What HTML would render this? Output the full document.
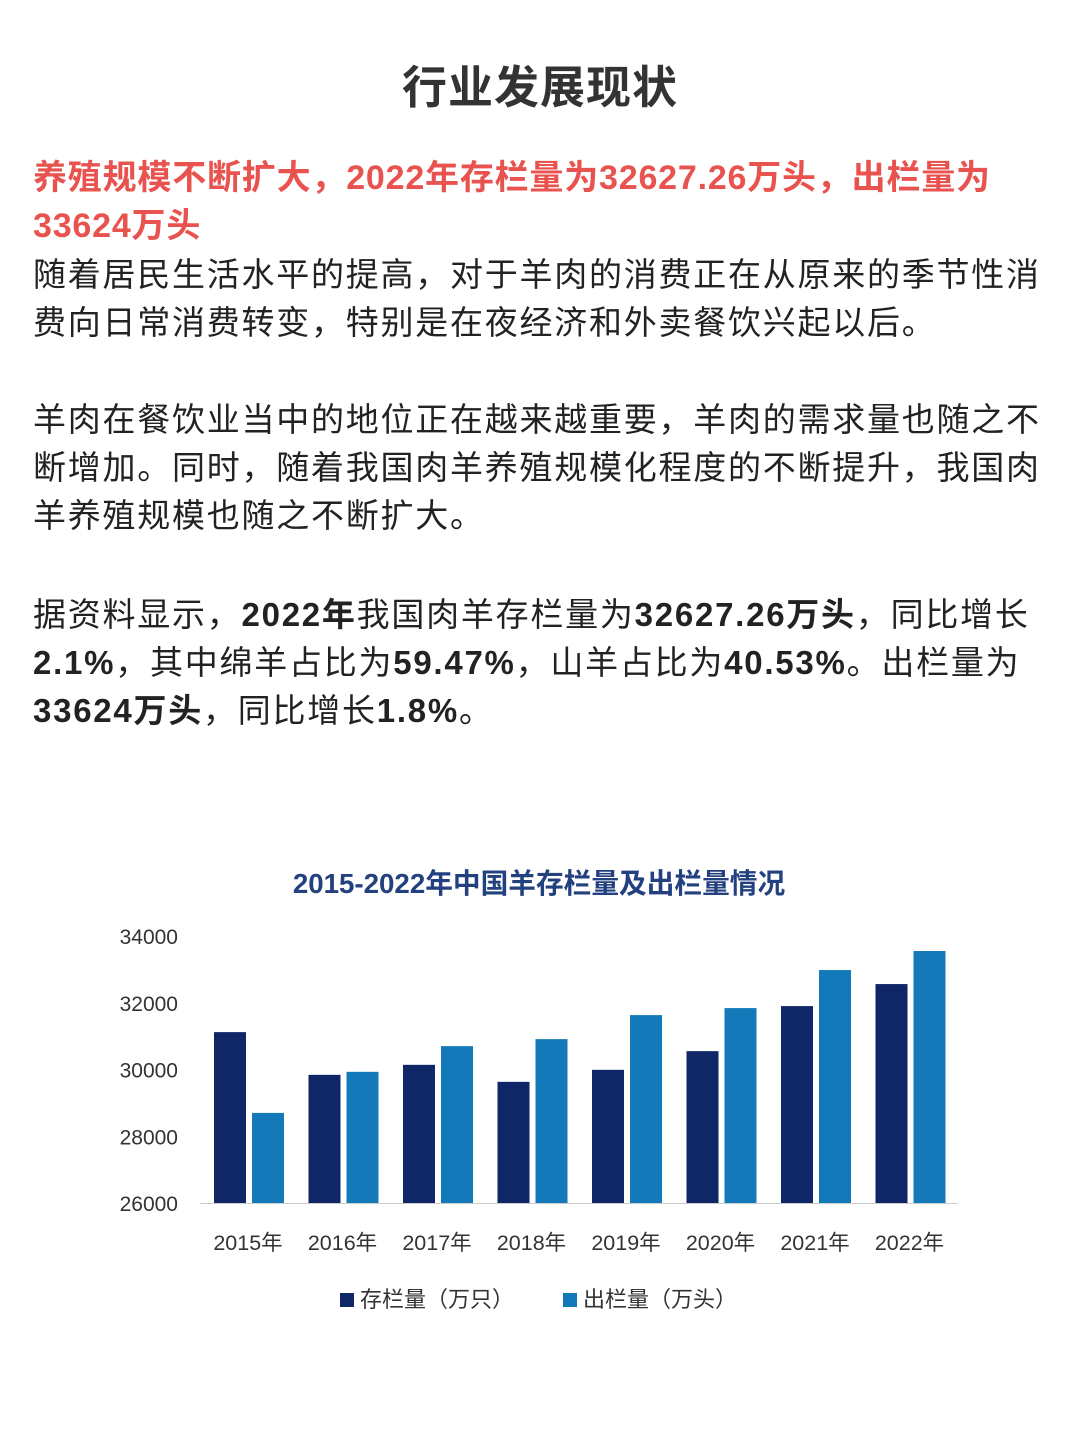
<!DOCTYPE html>
<html><head><meta charset="utf-8">
<style>
body{margin:0;width:1080px;height:1443px;background:#fff;position:relative;font-family:"Liberation Sans","Noto Sans CJK SC",sans-serif;overflow:hidden}
.t{position:absolute;left:33px;white-space:nowrap}
h1{position:absolute;top:58px;left:0;width:1080px;text-align:center;margin:0;font-size:45px;color:#333;font-weight:bold;line-height:60px;letter-spacing:1px}
.red{color:#e9534f;font-weight:bold;font-size:34px;line-height:48px;top:154px;letter-spacing:0.8px}
.body{font-size:33px;line-height:48px;color:#222;letter-spacing:1.75px}
b{font-weight:bold}
</style></head><body>
<h1>行业发展现状</h1>
<div class="t red">养殖规模不断扩大，2022年存栏量为32627.26万头，出栏量为<br>33624万头</div>
<div class="t body" style="top:251px">随着居民生活水平的提高，对于羊肉的消费正在从原来的季节性消<br>费向日常消费转变，特别是在夜经济和外卖餐饮兴起以后。</div>
<div class="t body" style="top:396px">羊肉在餐饮业当中的地位正在越来越重要，羊肉的需求量也随之不<br>断增加。同时，随着我国肉羊养殖规模化程度的不断提升，我国肉<br>羊养殖规模也随之不断扩大。</div>
<div class="t body" style="top:591px">据资料显示，<b>2022年</b>我国肉羊存栏量为<b>32627.26万头</b>，同比增长<br><b>2.1%</b>，其中绵羊占比为<b>59.47%</b>，山羊占比为<b>40.53%</b>。出栏量为<br><b>33624万头</b>，同比增长<b>1.8%</b>。</div>
<svg id="chart" width="1080" height="1443" style="position:absolute;left:0;top:0" font-family="Liberation Sans, Noto Sans CJK SC, sans-serif">
<text x="539" y="893" text-anchor="middle" font-size="27.7" font-weight="bold" fill="#23407f">2015-2022年中国羊存栏量及出栏量情况</text>
</svg>
<script>
const categories=["2015年","2016年","2017年","2018年","2019年","2020年","2021年","2022年"];
const stock=[31120,29840,30140,29630,29990,30550,31900,32560];
const output=[28700,29930,30700,30910,31630,31840,32980,33550];
const yTicks=[26000,28000,30000,32000,34000];
const svg=document.getElementById('chart');const NS='http://www.w3.org/2000/svg';
const y0=1203,y1=936,vmin=26000,vmax=34000;
const y=v=>y0-(v-vmin)/(vmax-vmin)*(y0-y1);
const x=i=>248+i*94.5;
function mk(t,a){const e=document.createElementNS(NS,t);for(const k in a)e.setAttribute(k,a[k]);svg.appendChild(e);return e;}
yTicks.forEach(v=>{const e=mk('text',{x:178,y:y(v)+8,'text-anchor':'end','font-size':21,fill:'#333'});e.textContent=v;

});
categories.forEach((c,i)=>{
const a=mk('rect',{x:x(i)-34,y:y(stock[i]),width:32,height:y0-y(stock[i]),fill:'#0f2667'});


const b=mk('rect',{x:x(i)+4,y:y(output[i]),width:32,height:y0-y(output[i]),fill:'#1479b8'});


const t=mk('text',{x:x(i),y:1250,'text-anchor':'middle','font-size':21.5,fill:'#333'});t.textContent=c;


});
const ax=mk('line',{x1:200,x2:958,y1:y0+0.5,y2:y0+0.5,stroke:'#ccc','stroke-width':1});


const l1=mk('rect',{x:340,y:1293,width:14,height:14,fill:'#0f2667'});


const lt1=mk('text',{x:360,y:1307,'font-size':22,fill:'#333'});lt1.textContent='存栏量（万只）';


const l2=mk('rect',{x:563,y:1293,width:14,height:14,fill:'#1479b8'});


const lt2=mk('text',{x:583,y:1307,'font-size':22,fill:'#333'});lt2.textContent='出栏量（万头）';


</script>
</body></html>
